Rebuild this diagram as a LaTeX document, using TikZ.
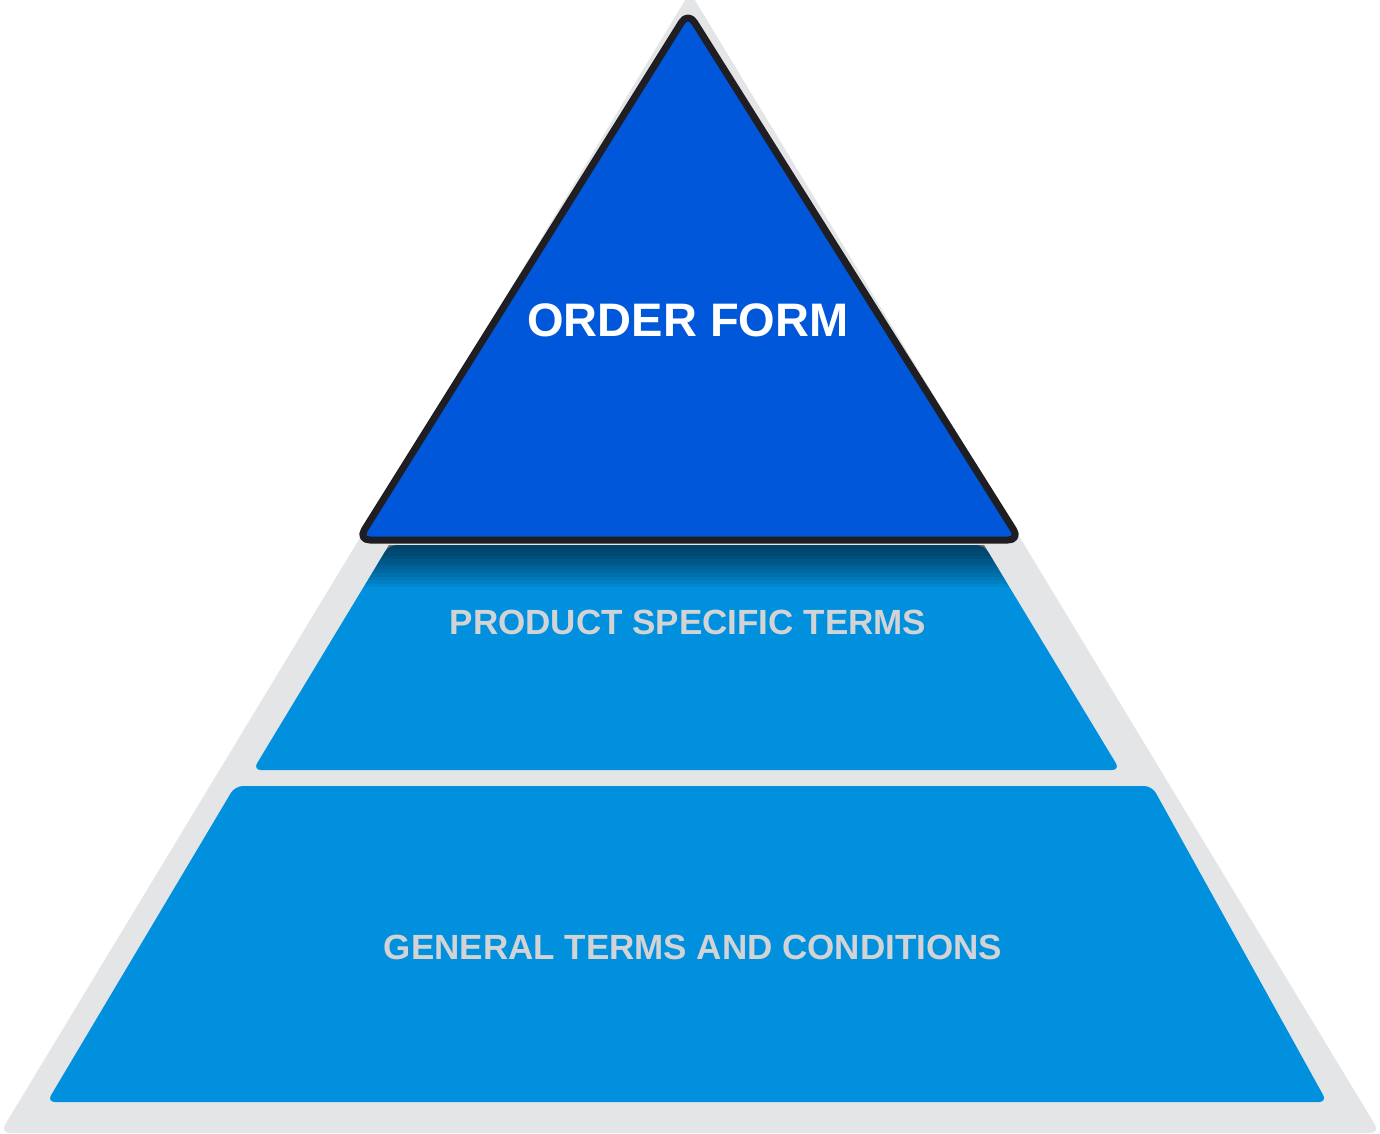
\documentclass[tikz,border=0pt]{standalone}
\usepackage{fontspec}
\setmainfont{Liberation Sans}
\definecolor{graybg}{HTML}{E4E5E7}
\definecolor{tier}{HTML}{0090DD}
\definecolor{topblue}{HTML}{0057DA}
\definecolor{txtgray}{HTML}{D2D3D5}
\begin{document}
\begin{tikzpicture}[x=1pt,y=-1pt,
  tierbox/.style={fill=tier,rounded corners=8pt},
  lbl/.style={font=\bfseries\fontsize{35}{40}\selectfont,text=txtgray}]
\useasboundingbox (0,0) rectangle (1380,1133);
\fill[graybg,rounded corners=10pt] (690,-8) -- (1380,1133) -- (0,1133) -- cycle;
\fill[tierbox] (389,545) -- (984,545) -- (1120,770) -- (253,770) -- cycle;
\fill[tierbox] (235,786) -- (1152,786) -- (1327,1102) -- (47,1102) -- cycle;
% shadow
\begin{scope}
\clip (389,545) -- (984,545) -- (1120,770) -- (253,770) -- cycle;
\foreach \i in {1,...,12}{
  \fill[black,opacity=0.06] (360,540) rectangle (1020,{545+\i*3.5});
}
\end{scope}
\node[lbl] (pst) at (688,622) {PRODUCT SPECIFIC TERMS};
\node[lbl] (gtc) at (693,947) {GENERAL TERMS AND CONDITIONS};
\draw[line width=7pt,draw={rgb,255:red,30;green,30;blue,35},fill=topblue,rounded corners=12pt,line join=round]
  (688,12) -- (1020,540) -- (358,540) -- cycle;
\node[font=\bfseries\fontsize{47}{54}\selectfont,text=white] (of) at (688,320) {ORDER FORM};
\end{tikzpicture}
\end{document}
